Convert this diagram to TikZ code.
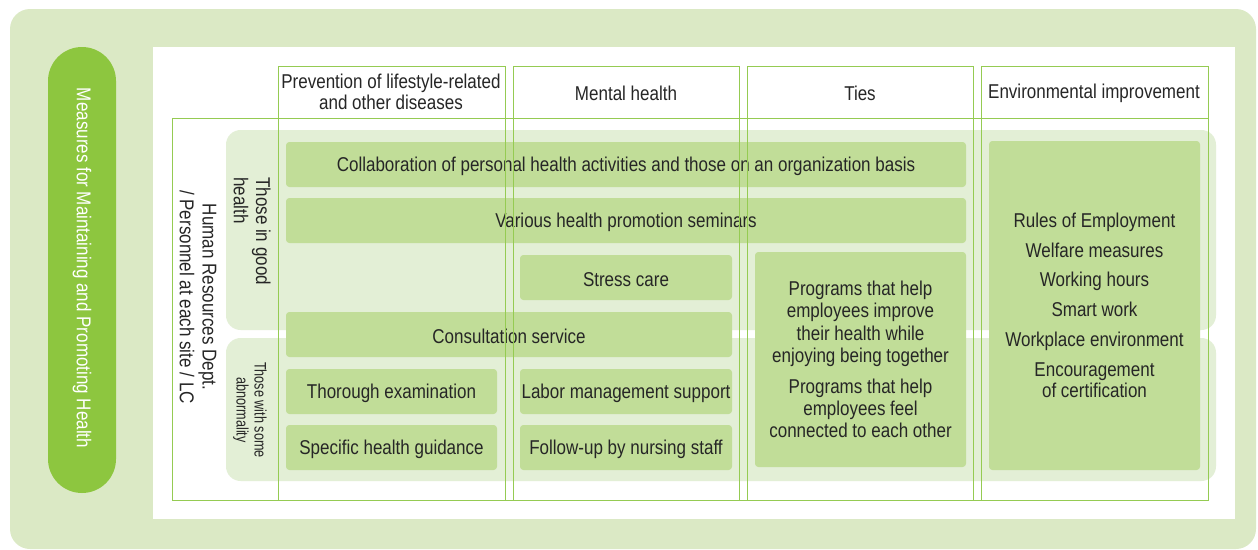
\documentclass[tikz,border=0pt]{standalone}
\usepackage{fontspec}
\setmainfont{Liberation Sans}[FakeStretch=0.85]
\newfontfamily\narrowfont{Liberation Sans}[FakeStretch=0.76]
\usetikzlibrary{fit}
\definecolor{bggreen}{HTML}{DBE9C5}
\definecolor{bandgreen}{HTML}{E3EFD6}
\definecolor{boxgreen}{HTML}{C1DD98}
\definecolor{pillgreen}{HTML}{8DC63F}
\definecolor{linegreen}{HTML}{95CB52}
\definecolor{textdark}{HTML}{262626}
\begin{document}
\begin{tikzpicture}[x=0.75pt,y=-0.75pt,
  txt/.style={text=textdark, font=\fontsize{15}{16.8}\selectfont, align=center, inner sep=0pt},
  btxt/.style={txt, yshift=-1.3pt},
  box/.style={fill=boxgreen, rounded corners=2.5pt, inner sep=0pt, txt},
  band/.style={fill=bandgreen, rounded corners=11pt, inner sep=0pt},
  frame/.style={draw=linegreen, line width=0.6pt}]
\useasboundingbox (0,0) rectangle (1258,550);
\fill[bggreen, rounded corners=15pt] (10,9) rectangle (1256,549);
\fill[white] (153,47) rectangle (1235,519);
% pill
\node[fill=pillgreen, rounded corners=25.5pt, minimum width=51pt, minimum height=334.5pt, inner sep=0pt] (pill) at (82,270) {};
\node[rotate=-90, text=white, font=\fontsize{15}{16}\selectfont] (pilltext) at (82,268) {Measures for Maintaining and Promoting Health};
% bands
\node[band, fit={(226,130) (1216,330)}] (goodband) {};
\node[band, fit={(226,338) (1216,481)}] (abband) {};
% boxes
\node[box, fit={(286,142) (966,187)}] (collab) {};
\node[btxt] at (collab.center) {Collaboration of personal health activities and those on an organization basis};
\node[box, fit={(286,198) (966,243)}] (various) {};
\node[btxt] at (various.center) {Various health promotion seminars};
\node[box, fit={(520,255) (732,300)}] (stress) {};
\node[btxt] at (stress.center) {Stress care};
\node[box, fit={(286,312) (732,357)}] (consult) {};
\node[btxt] at (consult.center) {Consultation service};
\node[box, fit={(286,369) (497,414)}] (thorough) {};
\node[btxt] at (thorough.center) {Thorough examination};
\node[box, fit={(520,369) (732,414)}] (labor) {};
\node[btxt] at (labor.center) {Labor management support};
\node[box, fit={(286,425) (497,470)}] (specific) {};
\node[btxt] at (specific.center) {Specific health guidance};
\node[box, fit={(520,425) (732,470)}] (follow) {};
\node[btxt] at (follow.center) {Follow-up by nursing staff};
\node[box, fit={(755,252) (966,467)}] (ties) {};
\node[txt] at (ties.center) {Programs that help\\employees improve\\their health while\\enjoying being together\\[6pt]Programs that help\\employees feel\\connected to each other};
\node[box, fit={(989,141) (1200,470)}] (env) {};
\node[txt, font=\fontsize{15}{15.8}\selectfont, yshift=0.3pt] at (env.center) {Rules of Employment\\[6.5pt]Welfare measures\\[6.5pt]Working hours\\[6.5pt]Smart work\\[6.5pt]Workplace environment\\[6.5pt]Encouragement\\of certification};
% frames
\node[frame, inner sep=0pt, fit={(172,118) (1208,500)}] (rowframe) {};
\node[frame, inner sep=0pt, fit={(278,66) (505,500)}] (col1) {};
\node[frame, inner sep=0pt, fit={(513,66) (739,500)}] (col2) {};
\node[frame, inner sep=0pt, fit={(747,66) (973,500)}] (col3) {};
\node[frame, inner sep=0pt, fit={(981,66) (1208,500)}] (col4) {};
% headers
\node[txt, font=\fontsize{15}{15.8}\selectfont] (h1) at (391,92) {Prevention of lifestyle-related\\and other diseases};
\node[txt] (h2) at (626,93) {Mental health};
\node[txt] (h3) at (860,93) {Ties};
\node[txt] (h4) at (1094,93) {Environmental improvement};
% row labels
\node[txt, rotate=-90, align=left, anchor=north west] (good) at (271,177) {Those in good\\health};
\node[txt, rotate=-90, font=\narrowfont\fontsize{12.5}{13.5}\selectfont] (abn) at (250,410) {Those with some\\abnormality};
\node[txt, rotate=-90, font=\fontsize{15}{17}\selectfont] (hr) at (198,297) {Human Resources Dept.\\/ Personnel at each site / LC};
\end{tikzpicture}
\end{document}
